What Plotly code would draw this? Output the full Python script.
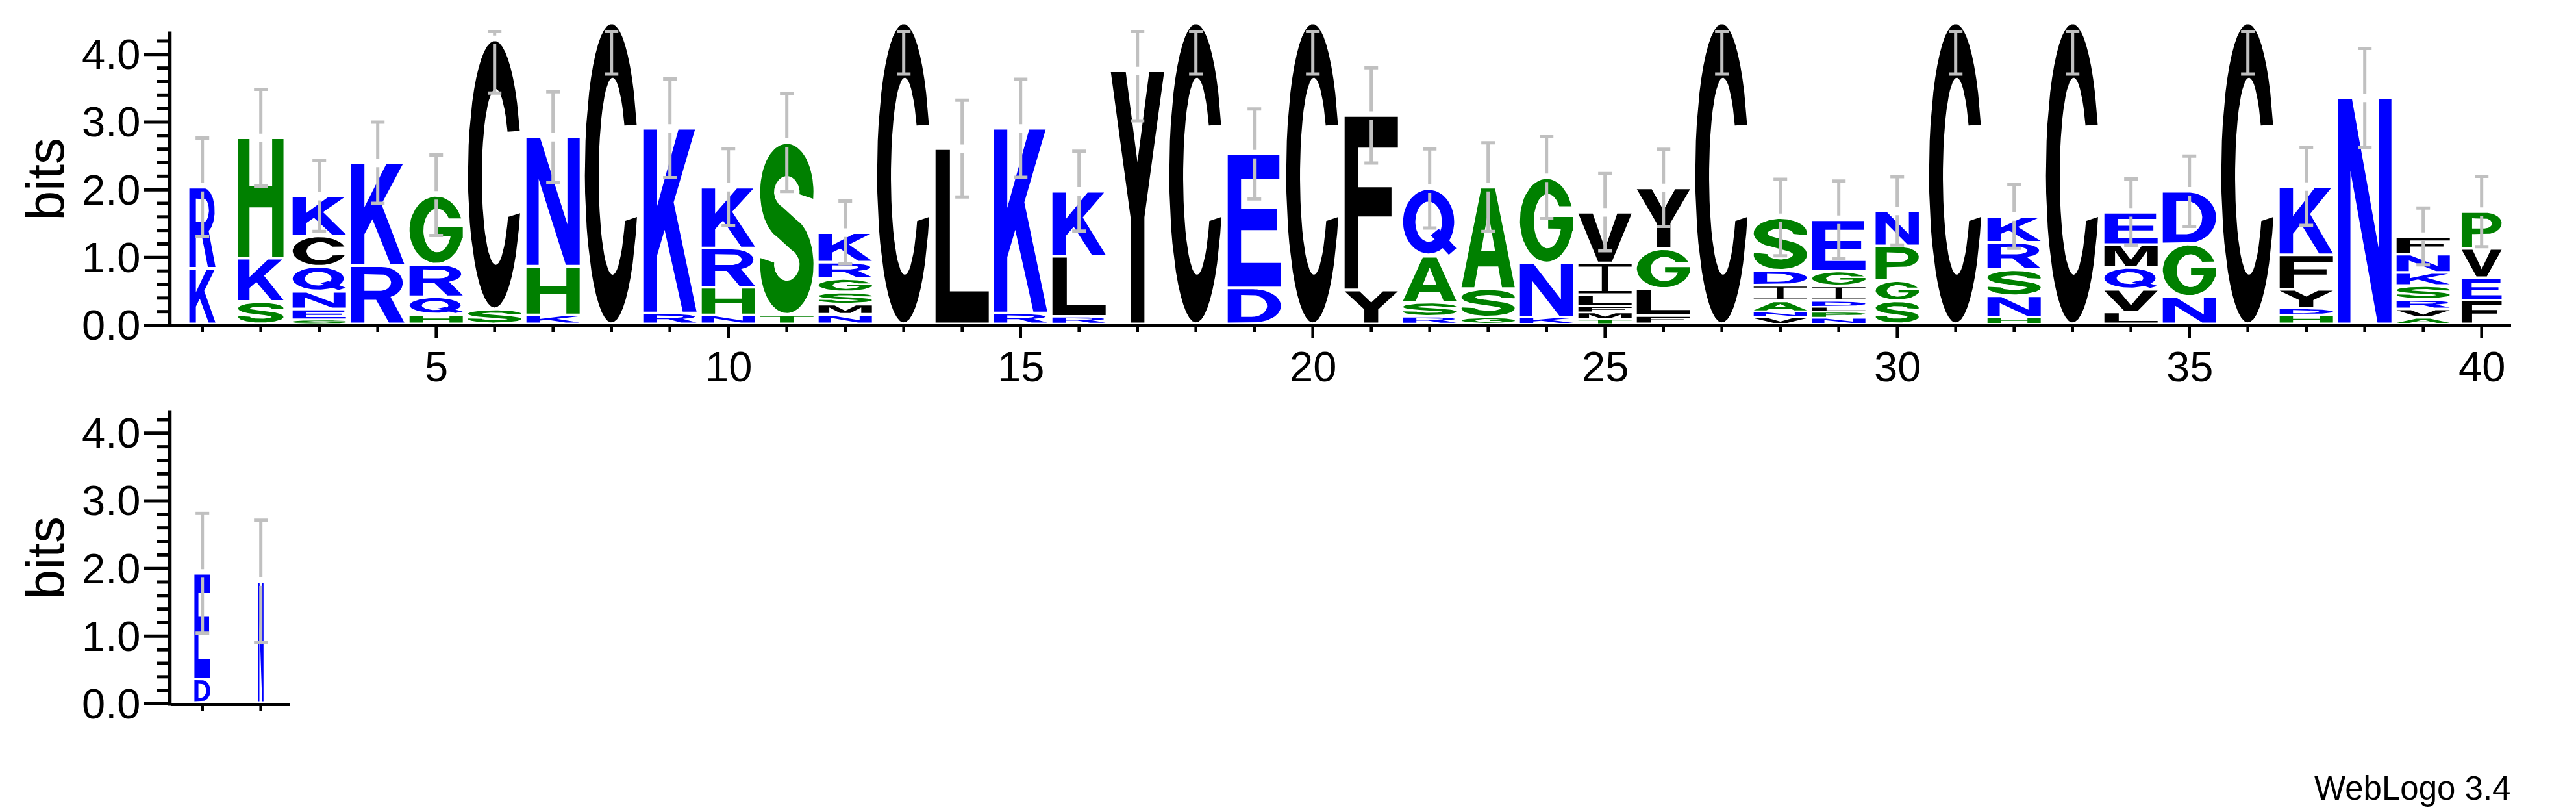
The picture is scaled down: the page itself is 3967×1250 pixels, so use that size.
import math
import plotly.graph_objects as go

# ---------------- data ----------------
positions = list(range(1, 43))
stack_letters = [
    ["K", "R"], ["S", "K", "H"], ["S", "E", "N", "Q", "C", "K"], ["R", "K"],
    ["H", "Q", "R", "G"], ["S", "C"], ["K", "H", "N"], ["C"], ["R", "K"],
    ["N", "H", "R", "K"], ["T", "S"], ["N", "M", "S", "G", "R", "K"], ["C"],
    ["L"], ["R", "K"], ["R", "L", "K"], ["Y"], ["C"], ["D", "E"], ["C"],
    ["Y", "F"], ["R", "S", "A", "Q"], ["G", "S", "A"], ["K", "N", "G"],
    ["T", "M", "F", "L", "I", "V"], ["F", "L", "G", "Y"], ["C"],
    ["V", "N", "A", "I", "D", "S"], ["N", "P", "L", "D", "I", "G", "E"],
    ["S", "G", "P", "N"], ["C"], ["H", "N", "S", "R", "K"], ["C"],
    ["L", "V", "Q", "M", "E"], ["N", "G", "D"], ["C"], ["H", "D", "Y", "F", "K"],
    ["N"], ["A", "V", "R", "S", "K", "N", "F"], ["F", "E", "V", "P"],
    ["D", "E"], ["N"],
]
stack_bits = [
    [0.82, 1.20], [0.33, 0.64, 1.78], [0.06, 0.16, 0.26, 0.37, 0.45, 0.59], [0.86, 1.52],
    [0.14, 0.26, 0.48, 1.02], [0.22, 3.98], [0.13, 0.72, 1.91], [4.45], [0.16, 2.73],
    [0.13, 0.41, 0.58, 0.90], [0.14, 2.54], [0.14, 0.15, 0.18, 0.20, 0.24, 0.44], [4.45],
    [2.59], [0.16, 2.73], [0.11, 0.89, 0.96], [3.74], [4.45], [0.53, 1.98], [4.45],
    [0.50, 2.58], [0.11, 0.21, 0.68, 1.00], [0.10, 0.42, 1.50], [0.10, 0.80, 1.26],
    [0.07, 0.10, 0.09, 0.17, 0.47, 0.75], [0.12, 0.40, 0.59, 0.90], [4.45],
    [0.10, 0.08, 0.16, 0.23, 0.22, 0.78], [0.09, 0.09, 0.07, 0.09, 0.22, 0.22, 0.76],
    [0.34, 0.30, 0.51, 0.52], [4.45], [0.10, 0.315, 0.385, 0.405, 0.385], [4.45],
    [0.175, 0.335, 0.325, 0.335, 0.48], [0.405, 0.775, 0.78], [4.45], [0.13, 0.10, 0.28, 0.51, 1.01],
    [3.34], [0.09, 0.13, 0.14, 0.205, 0.195, 0.27, 0.26], [0.35, 0.33, 0.435, 0.545],
    [0.35, 1.56], [1.79],
]
error_bits = [
    0.725, 0.715, 0.525, 0.60, 0.595, 0.79, 0.67, 0.76, 0.73, 0.57,
    0.725, 0.465, 0.76, 0.715, 0.725, 0.59, 0.74, 0.76, 0.665, 0.76,
    0.705, 0.585, 0.655, 0.605, 0.57, 0.57, 0.76, 0.565, 0.57, 0.505,
    0.76, 0.475, 0.76, 0.49, 0.52, 0.76, 0.575, 0.73, 0.42, 0.52,
    0.885, 0.905,
]
stack_width = [
    0.49, 0.85, 1, 1, 1, 1, 1, 1, 1, 1, 1, 1, 1, 1, 1, 1, 1, 1, 1, 1,
    1, 1, 1, 1, 1, 1, 1, 1, 1, 0.81, 1, 1, 1, 1, 1, 1, 1, 1, 1, 0.75,
    0.30, 0.10,
]
first_row_positions = list(range(1, 41))
second_row_positions = [41, 42]
x_tick_values = [5, 10, 15, 20, 25, 30, 35, 40]
y_tick_values = [0, 1, 2, 3, 4]
y_tick_labels = ["0.0", "1.0", "2.0", "3.0", "4.0"]
y_minor_values = [round(0.2 * i, 1) for i in range(22) if i % 5]
MAX_BITS = 4.32

# ---------------- styling ----------------
BLUE, GREEN, BLACK, GREY = "#0000ff", "#008000", "#000000", "#c0c0c0"
COLORS = {}
for c in "RKDENQ":
    COLORS[c] = BLUE
for c in "SGHTAP":
    COLORS[c] = GREEN
for c in "YVMCLFIW":
    COLORS[c] = BLACK
FONT = "Liberation Sans, Arial, Helvetica, sans-serif"
FULL_W = 0.911          # stack width in position units
OFF = 8                 # default page (body) margin of the html page
W_PX, H_PX = 3967 - 2 * OFF, 1250 - 2 * OFF
Y_TOP = 4.46


# ---------------- glyph outlines (unit box) ----------------
def arc(cx, cy, rx, ry, a0, a1, n=48):
    return [(cx + rx * math.cos(math.radians(a0 + (a1 - a0) * i / n)),
             cy + ry * math.sin(math.radians(a0 + (a1 - a0) * i / n))) for i in range(n + 1)]


def area(r):
    s = 0.0
    for i in range(len(r)):
        x1, y1 = r[i]
        x2, y2 = r[(i + 1) % len(r)]
        s += x1 * y2 - x2 * y1
    return s / 2


def orient(r, ccw):
    return r if (area(r) > 0) == ccw else r[::-1]


def stroke(pts, wx, wy):
    n = len(pts)
    left, right = [], []
    for i in range(n):
        x0, y0 = pts[max(i - 1, 0)]
        x1, y1 = pts[min(i + 1, n - 1)]
        tu, tv = (x1 - x0) / wx, (y1 - y0) / wy
        L = math.hypot(tu, tv) or 1.0
        nu, nv = -tv / L, tu / L
        px, py = pts[i]
        left.append((px + nu * 0.5 * wx, py + nv * 0.5 * wy))
        right.append((px - nu * 0.5 * wx, py - nv * 0.5 * wy))
    return left + right[::-1]


def glyph(ch):
    if ch == "A":
        return [[[(0, 0), (0.24, 0), (0.31, 0.21), (0.69, 0.21), (0.76, 0), (1, 0), (0.63, 1), (0.37, 1)],
                 [(0.37, 0.37), (0.63, 0.37), (0.5, 0.77)]]]
    if ch == "C":
        return [[arc(0.5, 0.5, 0.5, 0.5, 19, 343) + arc(0.52, 0.49, 0.26, 0.33, 333, 31)]]
    if ch == "D":
        outer = [(0, 0), (0.48, 0)] + arc(0.48, 0.5, 0.52, 0.5, -90, 90) + [(0, 1)]
        hole = [(0.25, 0.17), (0.45, 0.17)] + arc(0.45, 0.5, 0.29, 0.33, -90, 90) + [(0.25, 0.83)]
        return [[outer, hole]]
    if ch == "E":
        return [[[(0, 0), (1, 0), (1, 0.18), (0.25, 0.18), (0.25, 0.43), (0.92, 0.43), (0.92, 0.59),
                  (0.25, 0.59), (0.25, 0.82), (0.97, 0.82), (0.97, 1), (0, 1)]]]
    if ch == "F":
        return [[[(0, 0), (0.26, 0), (0.26, 0.42), (0.88, 0.42), (0.88, 0.59), (0.26, 0.59),
                  (0.26, 0.82), (1, 0.82), (1, 1), (0, 1)]]]
    if ch == "G":
        pts = (arc(0.5, 0.5, 0.5, 0.5, 20, 345) + [(1.0, 0.371), (1.0, 0.54), (0.53, 0.54), (0.53, 0.40)]
               + arc(0.52, 0.49, 0.26, 0.33, 344, 33))
        return [[pts]]
    if ch == "H":
        return [[[(0, 0), (0.25, 0), (0.25, 0.42), (0.75, 0.42), (0.75, 0), (1, 0), (1, 1), (0.75, 1),
                  (0.75, 0.6), (0.25, 0.6), (0.25, 1), (0, 1)]]]
    if ch == "I":
        return [[[(0, 0), (1, 0), (1, 0.08), (0.56, 0.08), (0.56, 0.92), (1, 0.92), (1, 1), (0, 1),
                  (0, 0.92), (0.44, 0.92), (0.44, 0.08), (0, 0.08)]]]
    if ch == "K":
        return [[[(0, 0), (0.25, 0), (0.25, 0.3), (0.4, 0.45), (0.74, 0), (1.0, 0), (0.57, 0.6),
                  (0.97, 1), (0.66, 1), (0.25, 0.57), (0.25, 1), (0, 1)]]]
    if ch == "L":
        return [[[(0, 0), (1, 0), (1, 0.18), (0.27, 0.18), (0.27, 1), (0, 1)]]]
    if ch == "M":
        return [[[(0, 0), (0.2, 0), (0.2, 0.75), (0.4, 0), (0.6, 0), (0.8, 0.75), (0.8, 0), (1, 0),
                  (1, 1), (0.7, 1), (0.5, 0.3), (0.3, 1), (0, 1)]]]
    if ch == "N":
        return [[[(0, 0), (0.23, 0), (0.23, 0.68), (0.74, 0), (1, 0), (1, 1), (0.77, 1), (0.77, 0.32),
                  (0.26, 1), (0, 1)]]]
    if ch == "P":
        outer = [(0, 0), (0.26, 0), (0.26, 0.38), (0.6, 0.38)] + arc(0.6, 0.69, 0.4, 0.31, -90, 90) + [(0, 1)]
        hole = [(0.26, 0.54), (0.56, 0.54)] + arc(0.56, 0.69, 0.2, 0.15, -90, 90) + [(0.26, 0.84)]
        return [[outer, hole]]
    if ch == "Q":
        ring = [arc(0.48, 0.51, 0.48, 0.49, 0, 360, 72), arc(0.48, 0.51, 0.25, 0.31, 0, 360, 72)]
        tail = [[(0.52, 0.30), (0.67, 0.40), (1.0, 0.1), (0.86, 0.0)]]
        return [ring, tail]
    if ch == "R":
        outer = ([(0, 0), (0.25, 0), (0.25, 0.41), (0.47, 0.41), (0.71, 0), (1.0, 0), (0.74, 0.46)]
                 + arc(0.57, 0.715, 0.4, 0.285, -55, 90) + [(0, 1)])
        hole = [(0.25, 0.57), (0.55, 0.57)] + arc(0.55, 0.72, 0.2, 0.15, -90, 90) + [(0.25, 0.87)]
        return [[outer, hole]]
    if ch == "S":
        center = arc(0.5, 0.715, 0.37, 0.19, -8, 250, 60) + arc(0.5, 0.285, 0.37, 0.19, 70, -188, 60)
        return [[stroke(center, 0.26, 0.19)]]
    if ch == "T":
        return [[[(0.37, 0), (0.63, 0), (0.63, 0.82), (1, 0.82), (1, 1), (0, 1), (0, 0.82), (0.37, 0.82)]]]
    if ch == "V":
        return [[[(0.37, 0), (0.63, 0), (1, 1), (0.73, 1), (0.5, 0.27), (0.27, 1), (0, 1)]]]
    if ch == "Y":
        return [[[(0.37, 0), (0.63, 0), (0.63, 0.42), (1, 1), (0.72, 1), (0.5, 0.64), (0.28, 1), (0, 1),
                  (0.37, 0.42)]]]
    return [[[(0, 0), (1, 0), (1, 1), (0, 1)]]]


GLYPHS = {}
for ch in set(c for col in stack_letters for c in col):
    comps = []
    for comp in glyph(ch):
        comps.append([orient(r, i == 0) for i, r in enumerate(comp)])
    GLYPHS[ch] = comps

# ---------------- build figure ----------------
fig = go.Figure()


def add_letter(ch, xc, w, y0, h, xa, ya):
    pad = min(0.02, 0.15 * h)
    gy0, gh = y0 + pad, h - 2 * pad
    for comp in GLYPHS[ch]:
        xs, ys = [], []
        for ring in comp:
            for gx, gy in ring:
                xs.append(xc - w / 2 + gx * w)
                ys.append(gy0 + gy * gh)
            xs.append(xs[-len(ring)])
            ys.append(ys[-len(ring)])
            xs.append(None)
            ys.append(None)
        fig.add_trace(go.Scatter(x=xs, y=ys, mode="lines", fill="toself", fillcolor=COLORS[ch],
                                 line=dict(width=0, color=COLORS[ch]), hoverinfo="skip",
                                 showlegend=False, xaxis=xa, yaxis=ya))


err_x = {"x": [], "x2": []}
err_y = {"x": [], "x2": []}
cap = 0.117
for pos, letters, bits, err, wf in zip(positions, stack_letters, stack_bits, error_bits, stack_width):
    xa, ya = ("x", "y") if pos in first_row_positions else ("x2", "y2")
    w = FULL_W * wf
    y = 0.0
    for ch, h in zip(letters, bits):
        add_letter(ch, pos, w, y, h, xa, ya)
        y += h
    top = y
    lo = top - err
    hi = min(top + err, MAX_BITS)
    g_lo, g_hi = top - 0.065, top + 0.06
    segs = [(lo, min(g_lo, hi))]
    if g_hi < hi:
        segs.append((g_hi, hi))
    ex, ey = err_x[xa], err_y[xa]
    for a, b in segs:
        ex += [pos, pos, None]
        ey += [a, b, None]
    for v in (lo, hi):
        ex += [pos - cap, pos + cap, None]
        ey += [v, v, None]

for xa, ya in (("x", "y"), ("x2", "y2")):
    fig.add_trace(go.Scatter(x=err_x[xa], y=err_y[xa], mode="lines",
                             line=dict(color=GREY, width=5), hoverinfo="skip",
                             showlegend=False, xaxis=xa, yaxis=ya))

# ---------------- axes geometry (screen pixels of the 3967x1250 page) ----------------
AX_LEFT = 264
TOP_ZERO, BOT_ZERO = 498.5, 1081.5
BITS_PX = 104.17
STEP_PX = 90.0
POS1_PX = 311.7
x0 = 1 - (POS1_PX - AX_LEFT) / STEP_PX
TOP_RIGHT, BOT_RIGHT = 3867, 447


def px_x(p, base=0):
    return AX_LEFT + (p - base - x0) * STEP_PX


def paper_x(px):
    return (px - OFF) / W_PX


def paper_y(py):
    return (H_PX - (py - OFF)) / H_PX


top_dom = [paper_y(TOP_ZERO), paper_y(TOP_ZERO - Y_TOP * BITS_PX)]
bot_dom = [paper_y(BOT_ZERO), paper_y(BOT_ZERO - Y_TOP * BITS_PX)]

axis_common = dict(showticklabels=False, ticks="", showgrid=False, zeroline=False, fixedrange=True)
fig.update_layout(
    width=W_PX, height=H_PX, margin=dict(l=0, r=0, t=0, b=0),
    paper_bgcolor="white", plot_bgcolor="white", showlegend=False,
    xaxis=dict(domain=[paper_x(AX_LEFT), paper_x(TOP_RIGHT)],
               range=[x0, x0 + (TOP_RIGHT - AX_LEFT) / STEP_PX], anchor="y",
               showline=True, linewidth=5, linecolor="black", **axis_common),
    yaxis=dict(domain=top_dom, range=[0, Y_TOP], anchor="x", showline=False, **axis_common),
    xaxis2=dict(domain=[paper_x(AX_LEFT), paper_x(BOT_RIGHT)],
                range=[40 + x0, 40 + x0 + (BOT_RIGHT - AX_LEFT) / STEP_PX], anchor="y2",
                showline=True, linewidth=5, linecolor="black", **axis_common),
    yaxis2=dict(domain=bot_dom, range=[0, Y_TOP], anchor="x2", showline=False, **axis_common),
)


def hline(xa_px, xb_px, y_px, width):
    fig.add_shape(type="line", xref="paper", yref="paper", x0=paper_x(xa_px), x1=paper_x(xb_px),
                  y0=paper_y(y_px), y1=paper_y(y_px), line=dict(color="black", width=width))


def vline(x_px, ya_px, yb_px, width):
    fig.add_shape(type="line", xref="paper", yref="paper", x0=paper_x(x_px), x1=paper_x(x_px),
                  y0=paper_y(ya_px), y1=paper_y(yb_px), line=dict(color="black", width=width))


tickfont = dict(family=FONT, size=65, color="black")
for zero in (TOP_ZERO, BOT_ZERO):
    line_c = zero + 2.0
    # y axis line
    vline(AX_LEFT - 2.5, line_c + 3, zero - MAX_BITS * BITS_PX, 5.5)
    # y ticks + labels
    for v in y_minor_values:
        hline(AX_LEFT - 22, AX_LEFT, line_c - v * BITS_PX, 5)
    for v, lab in zip(y_tick_values, y_tick_labels):
        yy = line_c - v * BITS_PX
        hline(AX_LEFT - 43, AX_LEFT, yy, 5)
        fig.add_annotation(text=lab, xref="paper", yref="paper", x=paper_x(218), y=paper_y(yy),
                           xanchor="right", yanchor="middle", showarrow=False, font=tickfont)
    # y title
    fig.add_annotation(text="bits", textangle=-90, xref="paper", yref="paper",
                       x=paper_x(69), y=paper_y(line_c - MAX_BITS * BITS_PX / 2),
                       xanchor="center", yanchor="middle", showarrow=False,
                       font=dict(family=FONT, size=82, color="black"))

# x ticks, top row
top_line = TOP_ZERO + 2.5
for p in first_row_positions:
    major = p in x_tick_values
    vline(px_x(p), top_line + 2.5, top_line + (20 if major else 10), 4.6)
for p in x_tick_values:
    fig.add_annotation(text=str(p), xref="paper", yref="paper", x=paper_x(px_x(p)), y=paper_y(564),
                       xanchor="center", yanchor="middle", showarrow=False, font=tickfont)
# x ticks, bottom row
bot_line = BOT_ZERO + 2.5
for p in second_row_positions:
    vline(px_x(p, 40), bot_line + 2.5, bot_line + 10, 4.6)

fig.add_annotation(text="WebLogo 3.4", xref="paper", yref="paper", x=paper_x(3868), y=paper_y(1213),
                   xanchor="right", yanchor="middle", showarrow=False,
                   font=dict(family=FONT, size=51, color="black"))

fig.write_html("out.html")
